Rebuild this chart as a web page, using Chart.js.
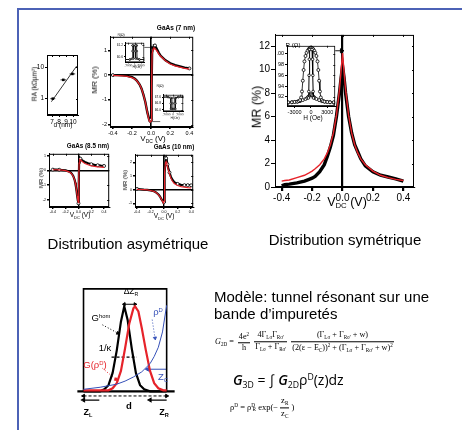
<!DOCTYPE html>
<html>
<head>
<meta charset="utf-8">
<script src="https://cdn.jsdelivr.net/npm/chart.js@4/dist/chart.umd.min.js"></script>
<style>
body { margin: 0; background: #fff; }
#stage { position: relative; width: 462px; height: 430px; overflow: hidden; background: #fff;
  font-family: "Liberation Sans", Arial, sans-serif; }
canvas { position: absolute; }
.tx { position: absolute; white-space: nowrap; line-height: 1; will-change: transform; }
.tx sub { font-size: 0.62em; vertical-align: -0.35em; }
.tx sup { font-size: 0.62em; vertical-align: 0.55em; }
.fr { display: inline-flex; flex-direction: column; vertical-align: middle; text-align: center; margin: 0 2px; }
.fr > span { padding: 1px 1px; }
.fr > span:first-child { border-bottom: 0.7px solid #000; }
.frame { position: absolute; background: #4c62b6; }
</style>
</head>
<body>
<div id="stage">
  <div class="frame" style="left:17px;top:8px;width:2px;height:422px"></div>
  <div class="frame" style="left:17px;top:8px;width:445px;height:2px"></div>
</div>
<script>
// ---------- data ----------
// RA(d) panel
const raD = [7.1, 8.6, 9.9];
const raVal = [1.0, 4.0, 6.2];
const raErr = [0.35, 0.4, 0.4];
const raFitD = [6.9, 10.5];
const raFitVal = [0.8, 11];

// GaAs 7 nm
const v7 = [-0.40,-0.35,-0.30,-0.25,-0.20,-0.17,-0.15,-0.12,-0.10,-0.08,-0.06,-0.05,-0.04,-0.03,-0.02,-0.01,0.00,0.005,0.01,0.02,0.03,0.04,0.06,0.08,0.10,0.15,0.20,0.25,0.30,0.35,0.40];
const mr7 = [0.0,0.0,-0.01,-0.03,-0.08,-0.15,-0.22,-0.38,-0.55,-0.8,-1.1,-1.3,-1.5,-1.65,-1.8,-1.85,-1.8,-0.5,0.9,1.1,1.2,1.2,1.05,0.9,0.78,0.6,0.48,0.4,0.35,0.3,0.27];
const fit7 = [-0.01,-0.02,-0.03,-0.05,-0.1,-0.16,-0.23,-0.38,-0.55,-0.8,-1.1,-1.3,-1.5,-1.7,-1.85,-1.9,-1.85,-0.4,0.85,1.05,1.1,1.08,0.98,0.86,0.76,0.58,0.45,0.37,0.32,0.27,0.24];

// GaAs 8.5 nm
const v85 = [-0.40,-0.35,-0.30,-0.25,-0.20,-0.15,-0.12,-0.10,-0.08,-0.06,-0.05,-0.04,-0.03,-0.02,-0.01,0.00,0.005,0.01,0.02,0.03,0.05,0.08,0.10,0.15,0.20,0.25,0.30,0.35,0.40];
const mr85 = [0.05,0.05,0.04,0.02,0.0,-0.08,-0.15,-0.25,-0.4,-0.65,-0.85,-1.1,-1.4,-1.75,-2.05,-2.25,-0.8,0.55,0.85,0.8,0.72,0.62,0.57,0.48,0.42,0.38,0.35,0.32,0.3];
const fit85 = [0.04,0.04,0.03,0.01,-0.02,-0.1,-0.18,-0.28,-0.42,-0.66,-0.85,-1.1,-1.4,-1.75,-2.05,-2.2,-0.6,0.5,0.75,0.72,0.64,0.53,0.47,0.38,0.31,0.27,0.24,0.22,0.2];

// GaAs 10 nm
const v10 = [-0.40,-0.35,-0.30,-0.25,-0.20,-0.15,-0.12,-0.10,-0.08,-0.06,-0.04,-0.02,-0.01,0.00,0.005,0.01,0.02,0.03,0.04,0.05,0.06,0.08,0.10,0.12,0.15,0.20,0.25,0.30,0.35,0.40];
const mr10 = [0.05,0.03,0.0,-0.02,-0.05,-0.12,-0.2,-0.28,-0.38,-0.5,-0.7,-0.85,-0.95,-0.9,0.3,1.2,2.1,2.3,2.1,1.85,1.6,1.25,0.95,0.75,0.55,0.42,0.35,0.33,0.33,0.32];
const fit10 = [0.02,0.01,0.0,-0.02,-0.06,-0.13,-0.21,-0.29,-0.4,-0.52,-0.7,-0.88,-0.98,-0.85,0.4,1.3,1.95,2.05,1.9,1.7,1.5,1.15,0.85,0.65,0.45,0.3,0.22,0.18,0.15,0.13];

// symmetric distribution
const vS = [-0.40,-0.38,-0.35,-0.30,-0.25,-0.22,-0.20,-0.18,-0.15,-0.12,-0.10,-0.08,-0.06,-0.04,-0.02,-0.01,0.00,0.01,0.02,0.04,0.06,0.08,0.10,0.12,0.15,0.20,0.25,0.30,0.35,0.40];
const mrS = [0.1,0.2,0.25,0.35,0.5,0.65,0.75,0.9,1.3,1.9,2.6,3.4,4.4,6.0,8.0,9.2,10.3,9.3,8.0,6.0,4.6,3.6,3.0,2.4,1.8,1.3,1.0,0.85,0.7,0.5];
const fitS = [0.5,0.55,0.6,0.8,1.0,1.2,1.35,1.55,1.9,2.4,2.9,3.6,4.6,6.1,8.3,9.8,11.4,9.8,8.3,6.1,4.6,3.6,2.9,2.4,1.9,1.35,1.0,0.8,0.65,0.55];

// R(H) insets
const hOuter = [-4200,-3500,-3000,-2500,-2200,-2000,-1800,-1650,-1500,-1350,-1200,-1000,-800,-600,-400,-200,0,200,400,600,800,1000,1200,1350,1500,1650,1800,2000,2200,2500,3000,3500,4200];
const rOuter = [91.0,91.0,91.05,91.1,91.2,91.4,91.9,93.0,95.0,97.0,98.6,99.6,100.2,100.6,100.9,101.1,101.2,101.1,100.9,100.6,100.2,99.6,98.6,97.0,95.0,93.0,91.9,91.4,91.2,91.1,91.05,91.0,91.0];
const hLow = [-4200,-3500,-3000,-2500,-2000,-1500,-1000,-700,-500,-300,-150,0,150,300,500,700,1000,1500,2000,2500,3000,3500,4200];
const rLow = [90.9,91.0,91.05,91.1,91.2,91.4,91.6,91.8,92.0,92.2,92.4,92.5,92.4,92.2,92.0,91.8,91.6,91.4,91.2,91.1,91.05,91.0,90.9];
const hSpike = [-450,-400,-350,-300,-200,-100,0,100,200,300,350,400,450];
const rSpike = [91.8,93,96,99,100.8,101.2,101.3,101.2,100.8,99,96,93,91.8];

const hUp7 = [-3000,-1500,-800,-700,-650,-600,250,300,350,1500,3000];
const hDn7 = [3000,1500,800,700,650,600,-250,-300,-350,-1500,-3000];
const rIn1 = [60.45,60.45,60.5,60.9,61.2,61.2,61.2,60.9,60.5,60.45,60.45];
const rIn2 = [67.6,67.6,67.5,66.8,66.1,66.1,66.1,66.8,67.5,67.6,67.6];

// schematic
const boxX = [0, 0, 1, 1];
const boxY = [0, 1, 1, 0];
const baseX = [-0.076, 1.098];
const baseY = [0, 0];
const gHomX = [0,0.2,0.25,0.3,0.35,0.4,0.45,0.49,0.53,0.58,0.63,0.68,0.73,0.8,1.0];
const gHomY = [0,0,0.02,0.06,0.18,0.4,0.68,0.83,0.7,0.42,0.18,0.06,0.02,0,0];
const gRhoX = [0,0.3,0.35,0.4,0.45,0.5,0.55,0.6,0.62,0.66,0.7,0.75,0.8,0.85,0.9,0.96,1.0];
const gRhoY = [0.01,0.01,0.03,0.08,0.2,0.42,0.66,0.81,0.83,0.78,0.62,0.4,0.2,0.08,0.03,0.01,0.01];
const rhoX = [0,0.2,0.4,0.5,0.6,0.7,0.8,0.85,0.9,0.95,1.0];
const rhoY = [0.02,0.04,0.07,0.1,0.14,0.19,0.27,0.34,0.43,0.58,0.84];

// ---------- helpers ----------
const FONT = '"Liberation Sans", Arial, sans-serif';
Chart.defaults.font.family = FONT;
Chart.defaults.color = '#000';
Chart.defaults.animation = false;
Chart.defaults.responsive = false;
Chart.defaults.events = [];
Chart.defaults.plugins.legend.display = false;
Chart.defaults.plugins.tooltip.enabled = false;

const stage = document.getElementById('stage');
const RED = '#e6232a';
const BLUE = '#3550b8';

// closed frame round the plot area, with small inward ticks on top/right
Chart.register({
  id: 'box',
  defaults: { on: false, fill: false, w: 1 },
  beforeDraw(chart, args, o) {
    if (!o.fill) return;
    const a = chart.chartArea, g = chart.ctx;
    g.save(); g.fillStyle = '#fff'; g.fillRect(a.left, a.top, a.width, a.height); g.restore();
  },
  afterDraw(chart, args, o) {
    if (!o.on) return;
    const a = chart.chartArea, g = chart.ctx;
    g.save();
    g.strokeStyle = '#000';
    g.lineWidth = o.w;
    g.strokeRect(a.left + 0.5, a.top + 0.5, a.width - 1, a.height - 1);
    const xs = chart.scales.x, ys = chart.scales.y;
    g.beginPath();
    xs.ticks.forEach(t => { const p = Math.round(xs.getPixelForValue(t.value)) + 0.5; g.moveTo(p, a.top); g.lineTo(p, a.top + 2); });
    ys.ticks.forEach(t => { const p = Math.round(ys.getPixelForValue(t.value)) + 0.5; g.moveTo(a.right, p); g.lineTo(a.right - 2, p); });
    g.stroke();
    g.restore();
  }
});

function axis(pos, min, max, ticks, fmt, size, fit, zero, tl, type) {
  return {
    type: type || 'linear', position: pos, min: min, max: max,
    afterBuildTicks: s => { s.ticks = ticks.map(v => ({ value: v })); },
    afterFit: s => {
      if (pos === 'bottom') s.height = fit; else s.width = fit;
      s.paddingLeft = s.paddingRight = s.paddingTop = s.paddingBottom = 0;
    },
    ticks: { font: { size: size }, color: '#000', padding: 1, maxRotation: 0, autoSkip: false, callback: fmt },
    grid: {
      drawOnChartArea: !!zero,
      color: c => (zero && c.tick && c.tick.value === 0) ? '#000' : 'rgba(0,0,0,0)',
      lineWidth: zero || 1,
      tickColor: '#000', tickLength: tl || 2
    },
    border: { display: true, color: '#000', width: 1 }
  };
}

function ser(xs, ys, color, w, extra) {
  return Object.assign({
    data: xs.map((x, i) => ({ x: x, y: ys[i] })),
    borderColor: color, backgroundColor: color, borderWidth: w,
    pointRadius: 0, tension: 0, fill: false
  }, extra || {});
}

// box = [left, top, width, height] of plot area, m = [top, right, bottom, left] margins
function plot(box, m, datasets, scales, boxOpts) {
  const c = document.createElement('canvas');
  c.width = box[2] + m[1] + m[3];
  c.height = box[3] + m[0] + m[2];
  c.style.left = (box[0] - m[3]) + 'px';
  c.style.top = (box[1] - m[0]) + 'px';
  stage.appendChild(c);
  return new Chart(c, {
    type: 'line',
    data: { datasets: datasets },
    options: {
      layout: { padding: { top: m[0], right: m[1], left: 0, bottom: 0 } },
      scales: scales,
      plugins: { box: boxOpts || { on: true } }
    }
  });
}

function lab(html, x, y, size, o) {
  o = o || {};
  const d = document.createElement('div');
  d.className = 'tx';
  d.innerHTML = html;
  d.style.left = x + 'px';
  d.style.top = y + 'px';
  d.style.fontSize = size + 'px';
  if (o.b) d.style.fontWeight = 'bold';
  if (o.c) d.style.color = o.c;
  if (o.f) d.style.fontFamily = o.f;
  d.style.transform = 'translate(' + (o.left ? '0' : '-50%') + ',-50%)' + (o.rot ? ' rotate(-90deg)' : '');
  stage.appendChild(d);
}

const f0 = v => String(v);
const f1 = v => v.toFixed(1);
const vTicks = [-0.4, -0.2, 0, 0.2, 0.4];
// open circles only on a few of the measured points
const marks = idx => ({
  pointRadius: c => idx.includes(c.dataIndex) ? 1.5 : 0,
  pointStyle: 'circle', pointBackgroundColor: '#fff', pointBorderColor: '#000', pointBorderWidth: 0.8
});

// ---------- RA vs d ----------
const raSets = [ser(raFitD, raFitVal, '#000', 0.8)];
raD.forEach((d, i) => raSets.push(ser([d - raErr[i], d + raErr[i]], [raVal[i], raVal[i]], '#000', 0.8)));
raSets.push(ser(raD, raVal, '#000', 0, { showLine: false, pointRadius: 1.8, pointStyle: 'rect' }));
plot([47, 53, 32, 62], [2, 3, 9, 12], raSets, {
  x: axis('bottom', 6.27, 10.7, [7, 8, 9, 10], f0, 6.5, 9, 0, 2),
  y: axis('left', 0.33, 25, [1, 10], f0, 6.5, 12, 0, 2, 'logarithmic')
});
lab('RA (kΩµm<sup>2</sup>)', 35, 84, 6.5, { rot: true });
lab('d (nm)', 63, 125, 6.5);

// ---------- GaAs 7 nm ----------
plot([110, 33, 85, 94], [1, 3, 10, 12], [
  ser(v7, fit7, RED, 1.3),
  ser(v7, mr7, '#000', 2.4, marks([0, 15, 16, 21, 30])),
  ser([-0.1, 0.012], [1.12, 1.12], '#000', 0.6, { pointStyle: 'triangle', pointRadius: [0, 1.6], rotation: 90 }),
  ser([0.0, 0.095], [-1.88, -1.88], '#000', 0.6)
], {
  x: axis('bottom', -0.43, 0.44, vTicks, f1, 5.5, 10, 1.6, 2),
  y: axis('left', -2.1, 1.55, [-2, -1, 0, 1], f0, 5.5, 12, 1.6, 2)
});
lab('GaAs (7 nm)', 176, 28, 6.5, { b: true });
lab('MR (%)', 95, 80, 8, { rot: true });
lab('V<sub>DC</sub> (V)', 153, 139.5, 8);

// insets of the 7 nm panel
const insetScales = (ymin, ymax, yt) => ({
  x: axis('bottom', -3000, 3000, [-2000, 0, 2000], f0, 3.2, 4, 0, 1),
  y: axis('left', ymin, ymax, yt, f1, 3.2, 8, 0, 1)
});
plot([125, 38, 23, 25], [0, 1, 4, 8], [
  ser(hUp7, rIn1, '#000', 0.7, { pointRadius: 0.8, pointBackgroundColor: '#fff' }),
  ser(hDn7, rIn1, '#000', 0.7, { pointRadius: 0.8, pointBackgroundColor: '#fff' })
], insetScales(60.3, 61.35, [60.6, 61.2]), { on: true, fill: true, w: 0.7 });
lab('R(Ω)', 121, 36, 3.4);
lab('H(Oe)', 137, 68, 3.4);
plot([163, 90, 24, 22], [0, 1, 4, 8], [
  ser(hUp7, rIn2, '#000', 0.7, { pointRadius: 0.8, pointBackgroundColor: '#fff' }),
  ser(hDn7, rIn2, '#000', 0.7, { pointRadius: 0.8, pointBackgroundColor: '#fff' })
], insetScales(65.8, 67.9, [66.0, 66.8, 67.6]), { on: true, fill: true, w: 0.7 });
lab('R(Ω)', 160, 87, 3.4);
lab('H(Oe)', 175, 119, 3.4);

// ---------- GaAs 8.5 nm ----------
plot([49, 150, 62, 57], [1, 3, 7, 9], [
  ser(v85, fit85, RED, 1.2),
  ser(v85, mr85, '#000', 2.2, marks([0, 2, 15, 19, 24, 26, 28]))
], {
  x: axis('bottom', -0.46, 0.48, vTicks, f1, 3.6, 7, 1.4, 2),
  y: axis('left', -2.5, 1.13, [-2, -1, 0, 1], f0, 3.6, 9, 1.4, 2)
});
lab('GaAs (8.5 nm)', 88, 146, 6.3, { b: true });
lab('MR (%)', 41, 178, 6, { rot: true });
lab('V<sub>DC</sub> (V)', 80, 216, 6.5);

// ---------- GaAs 10 nm ----------
plot([135, 151, 60, 56], [1, 3, 7, 9], [
  ser(v10, fit10, RED, 1.2),
  ser(v10, mr10, '#000', 2.2, marks([0, 13, 17, 19, 21, 25, 27, 28, 29]))
], {
  x: axis('bottom', -0.43, 0.43, vTicks, f1, 3.6, 7, 1.4, 2),
  y: axis('left', -1.27, 2.55, [-1, 0, 1, 2], f0, 3.6, 9, 1.4, 2)
});
lab('GaAs (10 nm)', 174, 147, 6.3, { b: true });
lab('MR (%)', 125, 180, 6, { rot: true });
lab('V<sub>DC</sub> (V)', 164, 217, 6.5);

// ---------- symmetric distribution ----------
plot([275, 33, 139, 154], [3, 6, 16, 22], [
  ser(vS, fitS, RED, 1.4),
  ser(vS, mrS, '#000', 3.4),
  ser([-0.08, -0.006], [11.6, 11.6], '#000', 0.9, { pointStyle: 'triangle', pointRadius: [0, 2.4], rotation: 90 })
], {
  x: axis('bottom', -0.444, 0.47, vTicks, f1, 10, 16, 2.2, 4),
  y: axis('left', 0, 12.95, [0, 2, 4, 6, 8, 10, 12], f0, 10, 22, 0, 4)
});
lab('MR (%)', 257, 107, 12.5, { rot: true });
lab('V<sub>DC</sub> (V)', 347, 203, 12.5);

plot([287, 41, 52, 65], [0, 1, 8, 10], [
  ser(hSpike, rSpike, '#000', 1.0, { pointRadius: 1.3, pointBackgroundColor: '#fff', pointBorderWidth: 0.8 }),
  ser(hOuter, rOuter, '#000', 0.8, { pointRadius: 1.5, pointBackgroundColor: '#fff', pointBorderWidth: 0.8 }),
  ser(hLow, rLow, '#000', 0.8, { pointRadius: 1.5, pointBackgroundColor: '#fff', pointBorderWidth: 0.8 })
], {
  x: axis('bottom', -4400, 4450, [-3000, 0, 3000], f0, 5.5, 8, 0, 2),
  y: axis('left', 90.3, 101.5, [92, 94, 96, 98, 100], f0, 5.5, 10, 0, 2)
}, { on: true, fill: true, w: 0.8 });
lab('R (Ω)', 293, 45, 6.2);
lab('H (Oe)', 313, 118, 6.5);

// ---------- captions ----------
lab('Distribution asymétrique', 128, 243, 15);
lab('Distribution symétrique', 345, 239, 15);

// ---------- schematic ----------
const noAxis = (min, max) => ({ type: 'linear', display: false, min: min, max: max });
const arrowL = { pointStyle: 'triangle', rotation: -90 };
const c2 = document.createElement('canvas');
c2.width = 108; c2.height = 135;
c2.style.left = '72px'; c2.style.top = '280px';
stage.appendChild(c2);
new Chart(c2, {
  type: 'line',
  data: { datasets: [
    ser(rhoX, rhoY, BLUE, 1),
    ser(gRhoX, gRhoY, RED, 2.2),
    ser(gHomX, gHomY, '#000', 2.2),
    ser(boxX, boxY, '#000', 1.6),
    ser(baseX, baseY, '#000', 2.4),
    ser([0.337, 0.64], [0.335, 0.335], '#000', 1.3, { borderDash: [3, 2] }),
    ser([0.49, 0.62], [0.85, 0.85], '#000', 1, { pointStyle: 'triangle', pointRadius: 1.8, rotation: [-90, 90] }),
    ser([0.77, 1.0], [0.216, 0.216], BLUE, 1, Object.assign({ pointRadius: [2.2, 0] }, arrowL)),
    ser([0.0, 1.0], [-0.045, -0.045], '#000', 1, { borderDash: [3, 2], pointStyle: 'triangle', pointRadius: 2, rotation: [-90, 90] }),
    ser([0.0, 0.19], [-0.085, -0.085], '#000', 1.2, Object.assign({ pointRadius: [2, 0] }, arrowL)),
    ser([0.8, 1.0], [-0.085, -0.085], '#000', 1.2, Object.assign({ pointRadius: [2, 0] }, arrowL)),
    ser([0.228, 0.413], [0.649, 0.568], '#000', 1, { borderDash: [1, 2], pointStyle: 'triangle', pointRadius: [0, 1.8], rotation: 115 }),
    ser([0.228, 0.39], [0.225, 0.117], RED, 1, { borderDash: [1, 2], pointStyle: 'triangle', pointRadius: [0, 1.8], rotation: 120 }),
    ser([0.826, 0.86], [0.70, 0.52], BLUE, 1, { borderDash: [1, 2], pointStyle: 'triangle', pointRadius: [0, 1.8], rotation: 170 })
  ] },
  options: {
    layout: { padding: 0 },
    scales: { x: noAxis(-0.076, 1.098), y: noAxis(-0.18, 1.036) },
    plugins: { box: { on: false } }
  }
});
lab('ΔZ<sub>R</sub>', 131, 292, 8.5);
lab('G<sup>hom</sup>', 101, 318, 9.5);
lab('1/κ', 105, 348, 9.5);
lab('G(ρ<sup>D</sup>)', 95, 365, 9.5, { c: RED });
lab('ρ<sup>D</sup>', 158, 312, 9.5, { c: BLUE });
lab('Z<sub>C</sub>', 163, 378, 9.5, { c: BLUE });
lab('d', 129, 406, 9.5, { b: true });
lab('Z<sub>L</sub>', 88, 413, 9, { b: true });
lab('Z<sub>R</sub>', 164, 413, 9, { b: true });

// ---------- model text ----------
lab('Modèle: tunnel résonant sur une', 214, 296, 15, { left: true });
lab('bande d’impuretés', 214, 313, 15, { left: true });
const SERIF = '"Liberation Serif", "Times New Roman", serif';
lab('<i>G</i><sub>2D</sub> = <span class="fr"><span>4e<sup>2</sup></span><span>h</span></span>' +
  '<span class="fr"><span>4Γ<sub>Lσ</sub>Γ<sub>Rσ\'</sub></span><span>Γ<sub>Lσ</sub> + Γ<sub>Rσ\'</sub></span></span>' +
  '<span class="fr"><span>(Γ<sub>Lσ</sub> + Γ<sub>Rσ\'</sub> + w)</span><span>(2(ε − E<sub>C</sub>))<sup>2</sup> + (Γ<sub>Lσ</sub> + Γ<sub>Rσ\'</sub> + w)<sup>2</sup></span></span>',
  215, 342, 8.2, { left: true, f: SERIF });
lab('<i style="font-weight:600">G</i><sub>3D</sub> = ∫ <i style="font-weight:600">G</i><sub>2D</sub>ρ<sup>D</sup>(z)dz', 233, 381, 14, { left: true, f: '"Open Sans", "DejaVu Sans", sans-serif' });
lab('ρ<sup>D</sup> = ρ<sup>D</sup><sub style="margin-left:-0.5em">R</sub> exp(−<span class="fr"><span>z<sub>R</sub></span><span>z<sub>C</sub></span></span>)',
  230, 408, 8.5, { left: true, f: SERIF });
</script>
</body>
</html>
